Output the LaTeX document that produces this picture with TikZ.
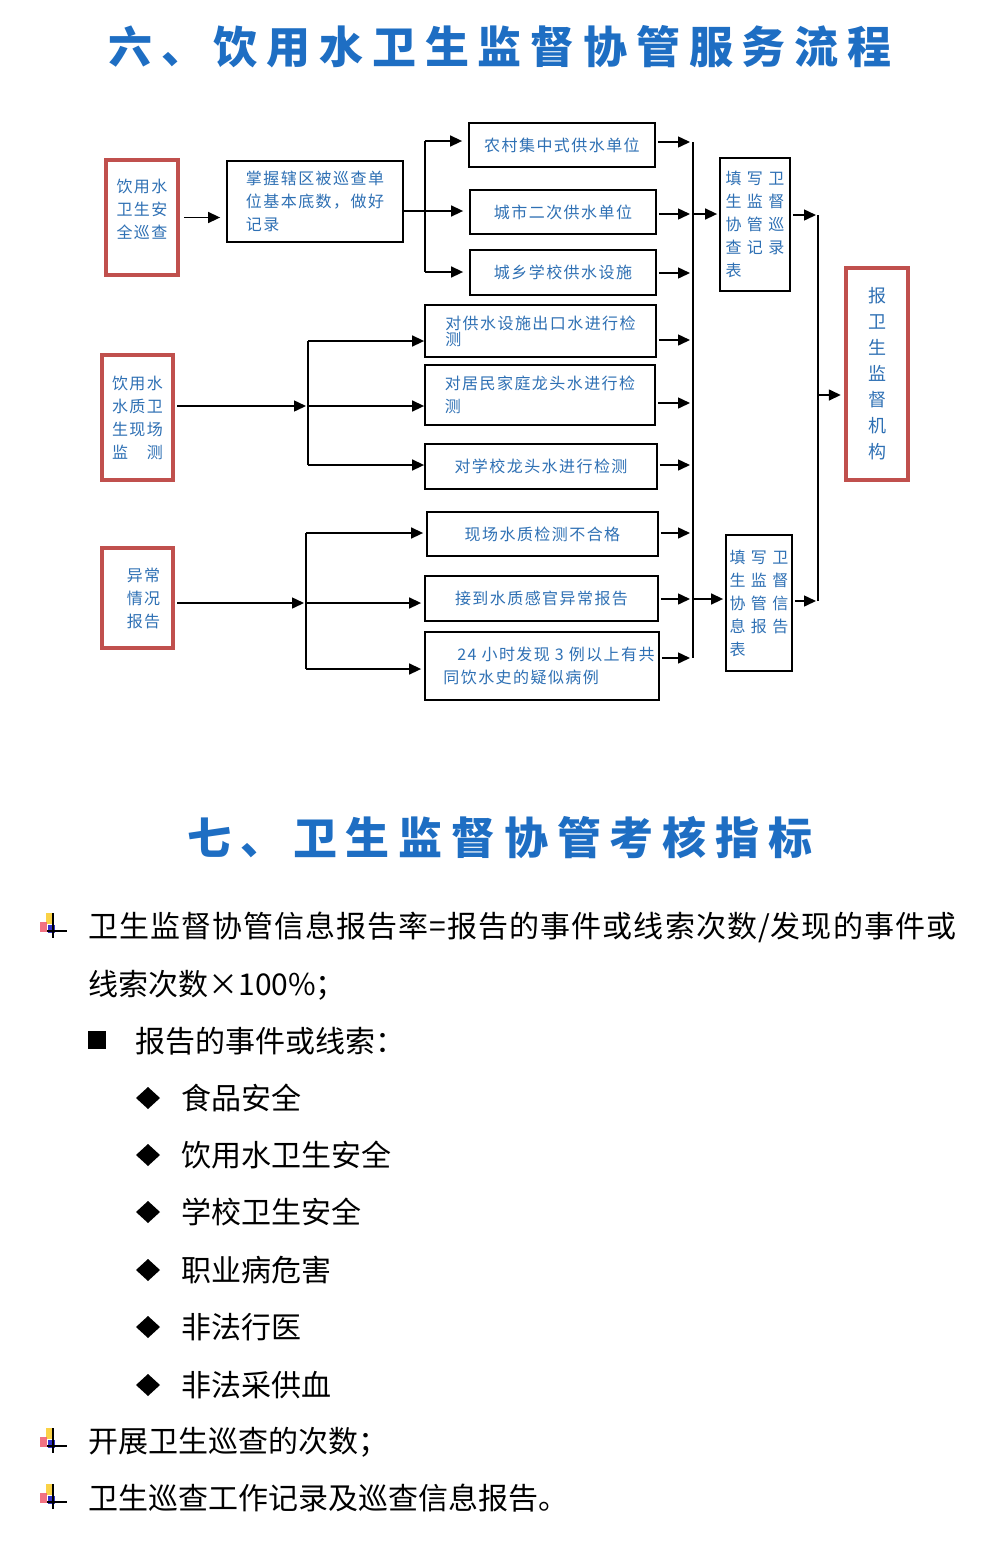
\documentclass[tikz,border=0pt]{standalone}
\usepackage{fontspec}
\usepackage{tikz}
\usetikzlibrary{arrows.meta}
\newfontfamily\cjkbody{Noto Sans CJK SC}
\newfontfamily\cjkbox[LetterSpace=9]{Noto Sans CJK SC}
\newfontfamily\cjkwide[LetterSpace=34]{Noto Sans CJK SC}
\newfontfamily\cjktitle[LetterSpace=20]{Noto Sans CJK SC}
\definecolor{titleblue}{RGB}{30,110,195}
\definecolor{textblue}{RGB}{46,112,180}
\definecolor{boxred}{RGB}{192,80,77}
\definecolor{markyellow}{RGB}{250,210,70}
\definecolor{markred}{RGB}{240,90,110}
\definecolor{markblue}{RGB}{50,50,200}

\begin{document}
\begin{tikzpicture}[x=0.5pt,y=-0.5pt,
    headline/.style={font=\cjktitle\bfseries\fontsize{22}{26}\selectfont, text=titleblue, inner sep=0pt},
    redbox/.style={draw=boxred, line width=2.2pt, inner sep=0pt, align=center, text=textblue, font=\cjkbox\fontsize{8}{11.5}\selectfont},
    blackbox/.style={draw, line width=0.9pt, inner sep=0pt, align=left, text=textblue, font=\cjkbox\fontsize{8}{11.5}\selectfont},
    formbox/.style={blackbox, font=\cjkwide\fontsize{8}{11.5}\selectfont},
    arr/.style={-{Triangle[length=6pt,width=5.5pt]}, line width=0.75pt},
    bus/.style={line width=0.75pt},
    listtext/.style={anchor=west, inner sep=0pt, font=\cjkbody\fontsize{15}{18}\selectfont},
    plusmark/.pic={
      \fill[markyellow] (-6,-12) rectangle (0,-1);
      \fill[markred, opacity=0.85] (-12,-3) rectangle (-5,7);
      \fill[markblue] (-4,0) rectangle (3,8);
      \draw[line width=0.9pt] (1,-12) -- (1,13) (-5,6) -- (15,6);
    }]
  \useasboundingbox (0,0) rectangle (1000,1548);
  \fill[white] (0,0) rectangle (1000,1548);

  \node[headline] (t6) at (500,47) {六、饮用水卫生监督协管服务流程};

  \node[redbox, minimum width=36pt, minimum height=57.5pt] (xc) at (142,217.5) {饮用水\\卫生安\\全巡查\\[-3pt]\mbox{}};
  \node[blackbox, minimum width=88pt, minimum height=40.5pt] (js) at (315,201.5) {掌握辖区被巡查单\\位基本底数，做好\\记录};
  \node[blackbox, minimum width=93pt, minimum height=22pt] (nc) at (562,145) {农村集中式供水单位};
  \node[blackbox, minimum width=93pt, minimum height=22pt] (cs) at (563,212) {城市二次供水单位};
  \node[blackbox, minimum width=93pt, minimum height=22.5pt] (xx) at (563,272.5) {城乡学校供水设施};

  \node[redbox, minimum width=35.5pt, minimum height=62.5pt] (jc) at (137.5,417.5) {饮用水\\水质卫\\生现场\\监　测};
  \node[blackbox, minimum width=115.5pt, minimum height=26pt] (ck) at (540.5,331) {对供水设施出口水进行检\\[-3.5pt]测};
  \node[blackbox, minimum width=115pt, minimum height=30pt] (jm) at (540,395) {对居民家庭龙头水进行检\\测};
  \node[blackbox, minimum width=116pt, minimum height=22.5pt] (xl) at (541,466.5) {对学校龙头水进行检测};

  \node[redbox, minimum width=35.5pt, minimum height=50pt] (yc) at (137.5,598) {\hspace*{6pt}异常\\\hspace*{6pt}情况\\\hspace*{6pt}报告};
  \node[blackbox, minimum width=115.5pt, minimum height=22pt] (bhg) at (542.5,534) {现场水质检测不合格};
  \node[blackbox, minimum width=116.5pt, minimum height=22.5pt] (gg) at (541.5,598.5) {接到水质感官异常报告};
  \node[blackbox, minimum width=117pt, minimum height=34pt] (yl) at (542,666) {\hspace*{14pt}24 小时发现 3 例以上有共\\\hspace*{7pt}同饮水史的疑似病例};

  \node[formbox, minimum width=35pt, minimum height=66.5pt] (xb) at (755,224.5) {填写卫\\生监督\\协管巡\\查记录\\表};
  \node[formbox, minimum width=33pt, minimum height=68pt] (xxb) at (759,603) {填写卫\\生监督\\协管信\\息报告\\表};
  \node[redbox, minimum width=31pt, minimum height=106pt, font=\cjkbox\fontsize{9}{13}\selectfont] (bj) at (877,374) {报\\卫\\生\\监\\督\\机\\构};

  \coordinate (s1) at (425,141);
  \coordinate (s2) at (425,211);
  \coordinate (s3) at (425,272);
  \coordinate (m1) at (308,341);
  \coordinate (m2) at (308,406);
  \coordinate (m3) at (308,465);
  \coordinate (n1) at (306,533);
  \coordinate (n2) at (306,603);
  \coordinate (n3) at (306,669);
  \coordinate (o1) at (693,142);
  \coordinate (o2) at (693,214);
  \coordinate (o3) at (693,273);
  \coordinate (o4) at (693,340);
  \coordinate (o5) at (693,403);
  \coordinate (o6) at (693,465);
  \coordinate (o7) at (693,533);
  \coordinate (o8) at (693,599);
  \coordinate (o9) at (693,658);
  \coordinate (q1) at (818,215);
  \coordinate (q2) at (818,601);
  \coordinate (q3) at (818,395);

  \draw[arr, shorten <=2pt, shorten >=3pt] (xc) -- (xc -| js.west);
  \draw[bus] (js.east |- s2) -- (s2);
  \draw[bus] (s1) -- (s3);
  \draw[arr, shorten >=3pt] (s1) -- (s1 -| nc.west);
  \draw[arr, shorten >=3pt] (s2) -- (s2 -| cs.west);
  \draw[arr, shorten >=3pt] (s3) -- (s3 -| xx.west);

  \draw[arr, shorten <=1pt, shorten >=1pt] (jc.east |- m2) -- (m2);
  \draw[bus] (m1) -- (m3);
  \draw[arr] (m1) -- (m1 -| ck.west);
  \draw[arr] (m2) -- (m2 -| jm.west);
  \draw[arr] (m3) -- (m3 -| xl.west);

  \draw[arr, shorten <=1pt, shorten >=1pt] (yc.east |- n2) -- (n2);
  \draw[bus] (n1) -- (n3);
  \draw[arr, shorten >=1.5pt] (n1) -- (n1 -| bhg.west);
  \draw[arr, shorten >=1.5pt] (n2) -- (n2 -| gg.west);
  \draw[arr, shorten >=1.5pt] (n3) -- (n3 -| yl.west);

  \draw[bus] (o1) -- (o9);
  \draw[arr, shorten <=1pt, shorten >=1.5pt] (o1 -| nc.east) -- (o1);
  \draw[arr, shorten <=1pt, shorten >=1.5pt] (o2 -| cs.east) -- (o2);
  \draw[arr, shorten <=1pt, shorten >=1.5pt] (o3 -| xx.east) -- (o3);
  \draw[arr, shorten <=1pt, shorten >=1.5pt] (o4 -| ck.east) -- (o4);
  \draw[arr, shorten <=1pt, shorten >=1.5pt] (o5 -| jm.east) -- (o5);
  \draw[arr, shorten <=1pt, shorten >=1.5pt] (o6 -| xl.east) -- (o6);
  \draw[arr, shorten <=1pt, shorten >=1.5pt] (o7 -| bhg.east) -- (o7);
  \draw[arr, shorten <=1pt, shorten >=1.5pt] (o8 -| gg.east) -- (o8);
  \draw[arr, shorten <=1pt, shorten >=1.5pt] (o9 -| yl.east) -- (o9);
  \draw[arr, shorten >=1pt] (o2) -- (o2 -| xb.west);
  \draw[arr, shorten >=1pt] (o8) -- (o8 -| xxb.west);

  \draw[arr, shorten <=1pt, shorten >=1pt] (q1 -| xb.east) -- (q1);
  \draw[arr, shorten <=1pt, shorten >=1pt] (q2 -| xxb.east) -- (q2);
  \draw[bus] (q1) -- (q2);
  \draw[arr, shorten >=1.5pt] (q3) -- (q3 -| bj.west);

  \node[headline] (t7) at (500,838) {七、卫生监督协管考核指标};

  \pic at (52,925) {plusmark};
  \node[listtext, font=\cjkbody\addfontfeature{LetterSpace=3.5}\fontsize{15}{18}\selectfont] (r1) at (88,927) {卫生监督协管信息报告率=报告的事件或线索次数/发现的事件或};
  \node[listtext] (r2) at (88,985) {线索次数×100\%；};
  \fill (88,1031) rectangle (106,1049);
  \node[listtext] (r3) at (135,1041) {报告的事件或线索：};
  \fill (136,1098) -- (148,1087) -- (160,1098) -- (148,1109) -- cycle;
  \node[listtext] (i1) at (181,1098) {食品安全};
  \fill (136,1155) -- (148,1144) -- (160,1155) -- (148,1166) -- cycle;
  \node[listtext] (i2) at (181,1155) {饮用水卫生安全};
  \fill (136,1212) -- (148,1201) -- (160,1212) -- (148,1223) -- cycle;
  \node[listtext] (i3) at (181,1212) {学校卫生安全};
  \fill (136,1270) -- (148,1259) -- (160,1270) -- (148,1281) -- cycle;
  \node[listtext] (i4) at (181,1270) {职业病危害};
  \fill (136,1327) -- (148,1316) -- (160,1327) -- (148,1338) -- cycle;
  \node[listtext] (i5) at (181,1327) {非法行医};
  \fill (136,1385) -- (148,1374) -- (160,1385) -- (148,1396) -- cycle;
  \node[listtext] (i6) at (181,1385) {非法采供血};
  \pic at (52,1440) {plusmark};
  \node[listtext] (r4) at (88,1442) {开展卫生巡查的次数；};
  \pic at (52,1496) {plusmark};
  \node[listtext] (r5) at (88,1498) {卫生巡查工作记录及巡查信息报告。};
\end{tikzpicture}
\end{document}
